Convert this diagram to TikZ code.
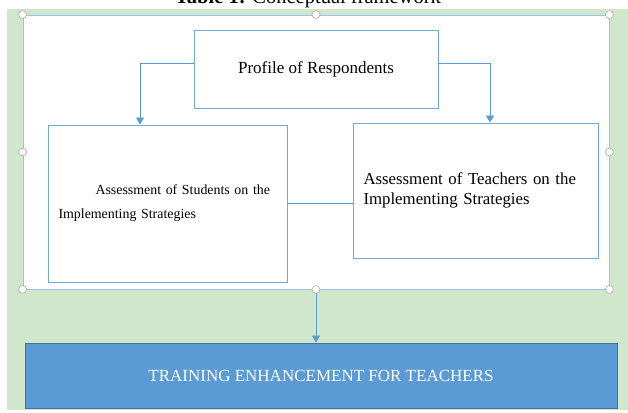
\documentclass[tikz,border=0pt]{standalone}
\usepackage{fontspec}
\setmainfont{Liberation Serif}
\usetikzlibrary{arrows, arrows.meta}
\usetikzlibrary{calc}

\definecolor{bggreen}{RGB}{208,231,203}
\definecolor{linkblue}{RGB}{91,155,213}
\definecolor{frameblue}{RGB}{157,195,230}
\definecolor{darkblue}{RGB}{65,113,156}

\tikzset{
  box/.style={draw=linkblue!85, line width=0.9pt, fill=white, inner sep=0pt},
  link/.style={draw=linkblue, line width=0.8pt},
  feed/.style={link, -{Triangle[width=8pt,length=7pt]}},
  handle/.style={circle, draw=gray!65, fill=white, line width=0.6pt, inner sep=0pt, minimum size=8pt}
}

\begin{document}
\begin{tikzpicture}[x=1pt, y=-1pt]
      \useasboundingbox (0,0) rectangle (628,412);
      \node[anchor=base, font=\fontsize{20.5}{24}\selectfont] (title) at (308,4) {\textbf{Table 1:} Conceptual framework};
      \fill[bggreen] (7,9) rectangle (628,410);

      \node[draw=frameblue, fill=white, line width=0.8pt, minimum width=586pt, minimum height=274pt, inner sep=0pt] (frame) at (316,152) {};

      \node[box, minimum width=244pt, minimum height=78pt, font=\fontsize{17}{20}\selectfont] (profile) at (316,69) {Profile of Respondents};
      \node[box, minimum width=239pt, minimum height=157pt, text width=218pt, align=left, font=\fontsize{13.9}{24}\selectfont] (students) at (167.5,203.5) {\hspace*{37pt}Assessment of Students on the\\Implementing Strategies};
      \node[box, minimum width=245pt, minimum height=135pt, text width=224pt, align=left, font=\fontsize{16.8}{20}\selectfont] (teachers) at (475.5,190.5) {Assessment of Teachers on the\\Implementing Strategies};
      \node[draw=darkblue, fill=linkblue, line width=0.9pt, minimum width=592pt, minimum height=65pt, text=white, font=\fontsize{17}{20}\selectfont] (training) at (321,375.5) {TRAINING ENHANCEMENT FOR TEACHERS};

      \draw[feed] ([yshift=6pt]profile.west) -| ([xshift=-27.5pt]students.north);
      \draw[feed] ([yshift=6pt]profile.east) -| ([xshift=14.5pt]teachers.north);
      \draw[link] (students.east) -- (students.east -| teachers.west);
      \draw[feed] (frame.south) -- (frame.south |- training.north);

      \foreach \a/\n in {north west/nw, north/n, north east/ne, west/w, east/e, south west/sw, south/s, south east/se}
        \node[handle] (h\n) at (frame.\a) {};
\end{tikzpicture}
\end{document}
